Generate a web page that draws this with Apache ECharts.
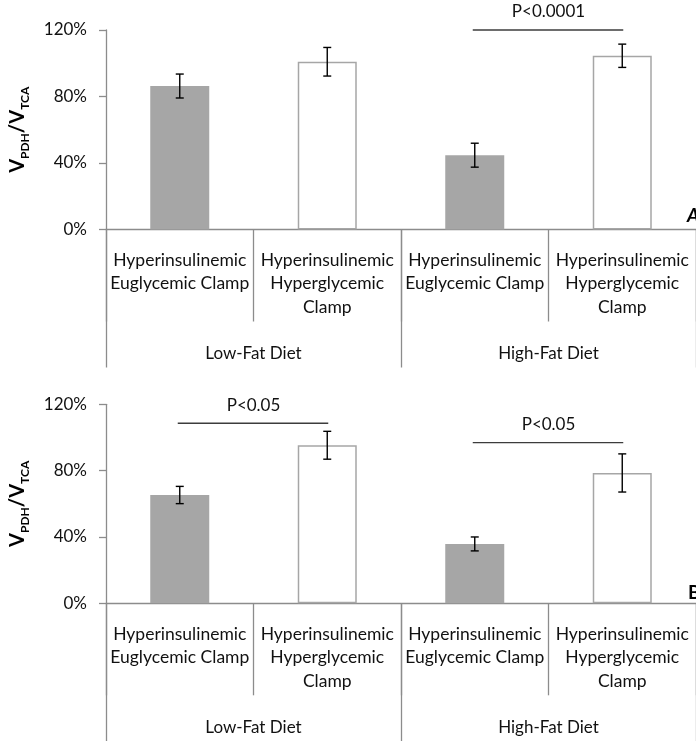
<!DOCTYPE html>
<html>
<head>
<meta charset="utf-8">
<script src="https://cdn.jsdelivr.net/npm/echarts@6/dist/echarts.min.js"></script>
<style>
  html, body { margin: 0; padding: 0; background: #fff; }
  #chart { width: 696px; height: 741px; }
</style>
</head>
<body>
<div id="chart"></div>
<script>
// Clamp conditions (inner category level) and diets (outer level)
const clampLabels = [
  'Hyperinsulinemic\nEuglycemic Clamp',
  'Hyperinsulinemic\nHyperglycemic\nClamp',
  'Hyperinsulinemic\nEuglycemic Clamp',
  'Hyperinsulinemic\nHyperglycemic\nClamp'
];
const dietLabels = ['Low-Fat Diet', 'High-Fat Diet'];
const panelLetters = ['A', 'B'];

// VPDH/VTCA in percent, with error bar half-widths
const panelAMean = [86.3, 100.9, 44.7, 104.5];
const panelAErr = [7.2, 8.6, 7.2, 7.0];
const panelBMean = [65.3, 95.3, 35.8, 78.6];
const panelBErr = [5.2, 8.4, 4.2, 11.5];

// Significance brackets: [from category, to category, level (%)]
const panelASig = [[2, 3, 120]];
const panelASigText = ['P<0.0001'];
const panelBSig = [[0, 1, 108.6], [2, 3, 96.9]];
const panelBSigText = ['P<0.05', 'P<0.05'];

const yTicks = { min: 0, max: 120, interval: 40 };

const FONT = 'Lato';
const AXIS_GRAY = '#8c8c8c';
const BAR_GRAY = '#a6a6a6';
const TEXT = '#111111';

const chart = echarts.init(document.getElementById('chart'), null, { renderer: 'canvas' });

const grids = [
  { left: 105, width: 595, top: 30, height: 199.5 },
  { left: 105, width: 595, top: 404.3, height: 199 }
];

const barStyles = [
  { color: BAR_GRAY, borderColor: BAR_GRAY, borderWidth: 0 },
  { color: '#ffffff', borderColor: BAR_GRAY, borderWidth: 1.5 }
];

function barData(means) {
  return means.map((v, i) => ({ value: v, itemStyle: barStyles[i % 2] }));
}

function errData(means, errs) {
  return means.map((v, i) => [i, v, errs[i]]);
}

function renderErr(params, api) {
  const x = api.value(0), m = api.value(1), e = api.value(2);
  const top = api.coord([x, m + e]);
  const bot = api.coord([x, m - e]);
  const cap = 4;
  const style = { stroke: '#000', lineWidth: 1.4 };
  return {
    type: 'group',
    children: [
      { type: 'line', shape: { x1: top[0], y1: top[1], x2: bot[0], y2: bot[1] }, style },
      { type: 'line', shape: { x1: top[0] - cap, y1: top[1], x2: top[0] + cap, y2: top[1] }, style },
      { type: 'line', shape: { x1: bot[0] - cap, y1: bot[1], x2: bot[0] + cap, y2: bot[1] }, style }
    ]
  };
}

function makeSigRenderer(texts) {
  return function (params, api) {
    const a = api.coord([api.value(0), api.value(2)]);
    const b = api.coord([api.value(1), api.value(2)]);
    return {
      type: 'group',
      children: [
        { type: 'line', shape: { x1: a[0] - 2, y1: a[1], x2: b[0] + 1, y2: b[1] },
          style: { stroke: '#3c3c3c', lineWidth: 1.4 } },
        { type: 'text', x: (a[0] + b[0]) / 2, y: a[1] - 18,
          style: { text: texts[params.dataIndex], fontFamily: FONT, fontSize: 17,
                   fill: TEXT, align: 'center', verticalAlign: 'middle' } }
      ]
    };
  };
}

const xAxes = [];
const yAxes = [];
grids.forEach((g, gi) => {
  xAxes.push({
    type: 'category', gridIndex: gi, position: 'bottom', data: clampLabels,
    axisLine: { show: true, lineStyle: { color: AXIS_GRAY, width: 1.3 } },
    axisTick: { show: true, interval: 0, length: 92, alignWithLabel: false,
                lineStyle: { color: AXIS_GRAY, width: 1.3 } },
    axisLabel: { interval: 0, margin: 19, fontFamily: FONT, fontSize: 17.5,
                 lineHeight: 23.5, color: TEXT, align: 'center' },
    splitLine: { show: false }
  });
  xAxes.push({
    type: 'category', gridIndex: gi, position: 'bottom', data: dietLabels,
    axisLine: { show: false },
    axisTick: { show: true, interval: 0, length: 138, alignWithLabel: false,
                lineStyle: { color: AXIS_GRAY, width: 1.3 } },
    axisLabel: { interval: 0, margin: 112, fontFamily: FONT, fontSize: 17,
                 lineHeight: 23.5, color: TEXT },
    splitLine: { show: false }
  });
  yAxes.push({
    type: 'value', gridIndex: gi, min: yTicks.min, max: yTicks.max, interval: yTicks.interval,
    axisLine: { show: true, lineStyle: { color: AXIS_GRAY, width: 1.3 } },
    axisTick: { show: true, length: 7, lineStyle: { color: AXIS_GRAY, width: 1.3 } },
    axisLabel: { formatter: '{value}%', margin: 19, fontFamily: FONT, fontSize: 17, color: TEXT },
    splitLine: { show: false },
    name: '{v|V}{s|PDH}{v|/V}{s|TCA}',
    nameLocation: 'middle',
    nameGap: 78,
    nameRotate: 90,
    nameTextStyle: {
      rich: {
        v: { fontFamily: FONT, fontWeight: 'bold', fontSize: 20, color: '#000', lineHeight: 24, verticalAlign: 'bottom' },
        s: { fontFamily: FONT, fontWeight: 'bold', fontSize: 12, color: '#000', lineHeight: 24, verticalAlign: 'bottom', padding: [0, 0, -3, 0] }
      }
    }
  });
});

const series = [
  { type: 'bar', xAxisIndex: 0, yAxisIndex: 0, barWidth: '40%', data: barData(panelAMean), silent: true },
  { type: 'custom', xAxisIndex: 0, yAxisIndex: 0, renderItem: renderErr,
    data: errData(panelAMean, panelAErr), z: 5, silent: true },
  { type: 'custom', xAxisIndex: 0, yAxisIndex: 0, renderItem: makeSigRenderer(panelASigText),
    data: panelASig, z: 5, silent: true, clip: false },
  { type: 'bar', xAxisIndex: 2, yAxisIndex: 1, barWidth: '40%', data: barData(panelBMean), silent: true },
  { type: 'custom', xAxisIndex: 2, yAxisIndex: 1, renderItem: renderErr,
    data: errData(panelBMean, panelBErr), z: 5, silent: true },
  { type: 'custom', xAxisIndex: 2, yAxisIndex: 1, renderItem: makeSigRenderer(panelBSigText),
    data: panelBSig, z: 5, silent: true, clip: false }
];

chart.setOption({
  animation: false,
  backgroundColor: '#ffffff',
  grid: grids,
  xAxis: xAxes,
  yAxis: yAxes,
  series: series,
  graphic: [
    { type: 'text', left: 687, top: 206, style: { text: panelLetters[0], fontFamily: FONT,
      fontWeight: 'bold', fontStyle: 'italic', fontSize: 19, fill: '#000' } },
    { type: 'text', left: 688, top: 583, style: { text: panelLetters[1], fontFamily: FONT,
      fontWeight: 'bold', fontSize: 19, fill: '#000' } }
  ]
});
</script>
</body>
</html>
